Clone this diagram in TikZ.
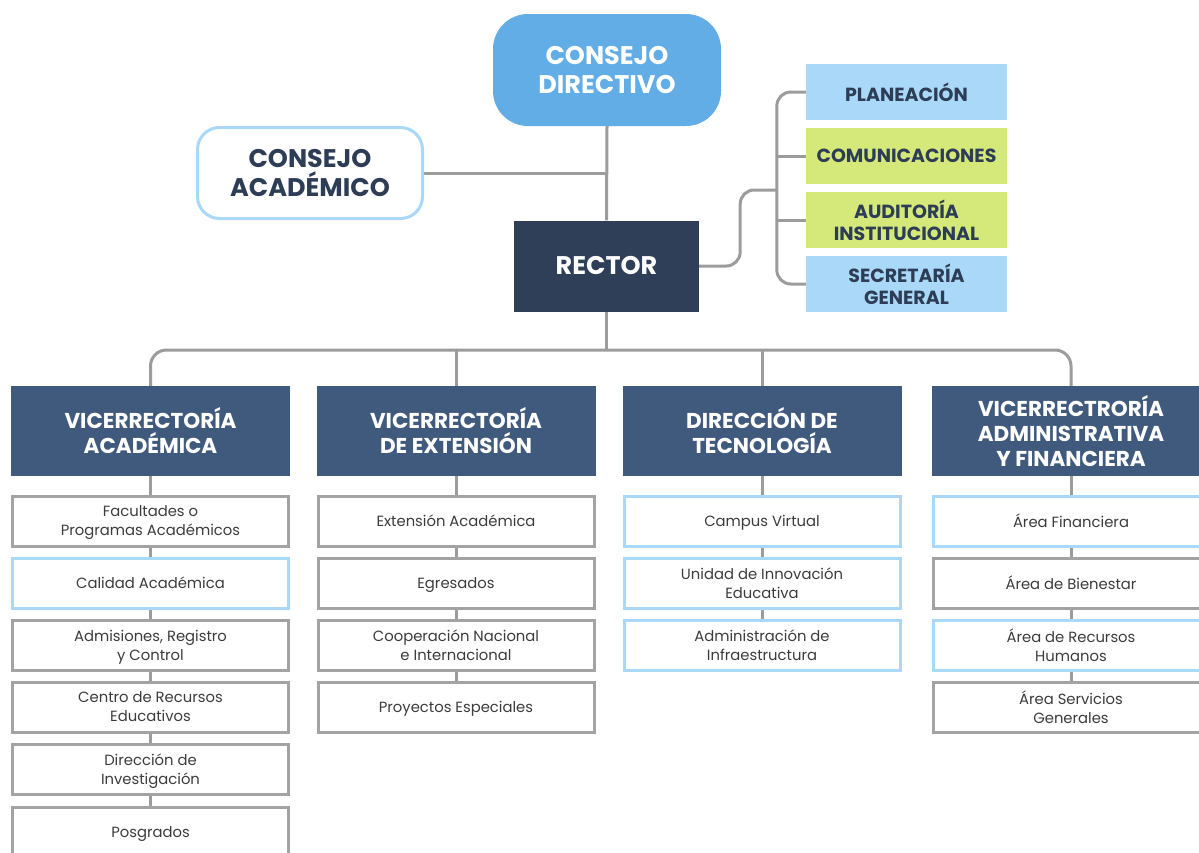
\documentclass[tikz,border=0pt]{standalone}
\usepackage{fontspec}
\setmainfont{Poppins}
\usetikzlibrary{backgrounds}
\definecolor{cdblue}{HTML}{62ADE6}
\definecolor{lblue}{HTML}{A9D8F8}
\definecolor{lime}{HTML}{D5E97B}
\definecolor{rectorc}{HTML}{2F3F58}
\definecolor{headc}{HTML}{405A7E}
\definecolor{darktxt}{HTML}{2D3D56}
\definecolor{childtxt}{HTML}{3C3C3C}
\definecolor{lineg}{HTML}{9C9C9C}
\definecolor{boxg}{HTML}{A3A3A3}
\tikzset{
  conn/.style={draw=lineg, line width=3pt},
  head/.style={fill=headc, text=white, font=\bfseries\fontsize{21.5}{25}\selectfont,
    minimum width=279pt, minimum height=90pt, align=center, inner sep=0pt},
  child/.style={draw=boxg, line width=3pt, fill=white, minimum width=276pt,
    minimum height=50pt, align=center, text=childtxt, inner sep=0pt,
    font=\fontsize{14.8}{19}\selectfont, text depth=0pt},
  childb/.style={child, draw=lblue},
  side/.style={minimum width=201pt, minimum height=56pt, align=center, inner sep=0pt,
    text=darktxt, font=\bfseries\fontsize{19}{22}\selectfont},
  big/.style={font=\bfseries\fontsize{25.5}{29}\selectfont, align=center, inner sep=0pt},
}
\begin{document}
\begin{tikzpicture}[x=1pt,y=-1pt]
\useasboundingbox (0,0) rectangle (1199,852);
\clip (0,0) rectangle (1199,852);

% top
\node[big, fill=cdblue, rounded corners=35pt, minimum width=228pt, minimum height=112pt,
  text=white] (cd) at (607,70) {CONSEJO\\DIRECTIVO};
\node[big, draw=lblue, line width=3pt, fill=white, rounded corners=22pt, minimum width=225pt,
  minimum height=91pt, text=darktxt] (ca) at (310,173) {CONSEJO\\ACADÉMICO};
\node[big, fill=rectorc, minimum width=185pt, minimum height=91pt, text=white]
  (rector) at (606.5,266) {RECTOR};

% side boxes
\node[side, fill=lblue] (pl) at (906.5,92) {PLANEACIÓN};
\node[side, fill=lime] (com) at (906.5,156) {COMUNICACIONES};
\node[side, fill=lime] (aud) at (906.5,220) {AUDITORÍA\\INSTITUCIONAL};
\node[side, fill=lblue] (sg) at (906.5,284) {SECRETARÍA\\GENERAL};
\coordinate (trk) at (777,190);
\coordinate (bus) at (606.5,350);

% headings
\node[head] (h1) at (150.5,431) {VICERRECTORÍA\\ACADÉMICA};
\node[head] (h2) at (456,431) {VICERRECTORÍA\\DE EXTENSIÓN};
\node[head] (h3) at (762,431) {DIRECCIÓN DE\\TECNOLOGÍA};
\node[head] (h4) at (1071,431) {VICERRECTRORÍA\\ADMINISTRATIVA\\Y FINANCIERA};

% column 1
\node[child]  (a1) at (150.5,521) {Facultades o\\Programas Académicos};
\node[childb] (a2) at (150.5,583) {Calidad Académica};
\node[child]  (a3) at (150.5,645) {Admisiones, Registro\\y Control};
\node[child]  (a4) at (150.5,707) {Centro de Recursos\\Educativos};
\node[child]  (a5) at (150.5,769) {Dirección de\\Investigación};
\node[child]  (a6) at (150.5,832) {Posgrados};
% column 2
\node[child] (b1) at (456,521) {Extensión Académica};
\node[child] (b2) at (456,583) {Egresados};
\node[child] (b3) at (456,645) {Cooperación Nacional\\e Internacional};
\node[child] (b4) at (456,707) {Proyectos Especiales};
% column 3
\node[childb] (c1) at (762,521) {Campus Virtual};
\node[childb] (c2) at (762,583) {Unidad de Innovación\\Educativa};
\node[childb] (c3) at (762,645) {Administración de\\Infraestructura};
% column 4
\node[childb] (d1) at (1071,521) {Área Financiera};
\node[child]  (d2) at (1071,583) {Área de Bienestar};
\node[childb] (d3) at (1071,645) {Área de Recursos\\Humanos};
\node[child]  (d4) at (1071,707) {Área Servicios\\Generales};

\begin{pgfonlayer}{background}
\fill[white] (0,0) rectangle (1199,852);
\draw[conn] (cd.south) -- (rector.north);
\draw[conn] (ca.east) -- (ca.east -| cd.south);
\draw[conn, rounded corners=14pt] (pl.west) -- ++(-29,0) |- (sg.west);
\draw[conn] (com.west) -- ++(-29,0);
\draw[conn] (aud.west) -- ++(-29,0);
\draw[conn, rounded corners=14pt] (rector.east) -- ++(41,0) |- (trk);
\draw[conn] (rector.south) -- (bus);
\draw[conn, rounded corners=16pt] (h1.north) |- (bus) -| (h4.north);
\draw[conn] (h2.north) -- (h2.north |- bus);
\draw[conn] (h3.north) -- (h3.north |- bus);
\draw[conn] (h1.south) -- (a1.north) (a1.south) -- (a2.north) (a2.south) -- (a3.north)
  (a3.south) -- (a4.north) (a4.south) -- (a5.north) (a5.south) -- (a6.north);
\draw[conn] (h2.south) -- (b1.north) (b1.south) -- (b2.north) (b2.south) -- (b3.north)
  (b3.south) -- (b4.north);
\draw[conn] (h3.south) -- (c1.north) (c1.south) -- (c2.north) (c2.south) -- (c3.north);
\draw[conn] (h4.south) -- (d1.north) (d1.south) -- (d2.north) (d2.south) -- (d3.north)
  (d3.south) -- (d4.north);
\end{pgfonlayer}
\end{tikzpicture}
\end{document}
